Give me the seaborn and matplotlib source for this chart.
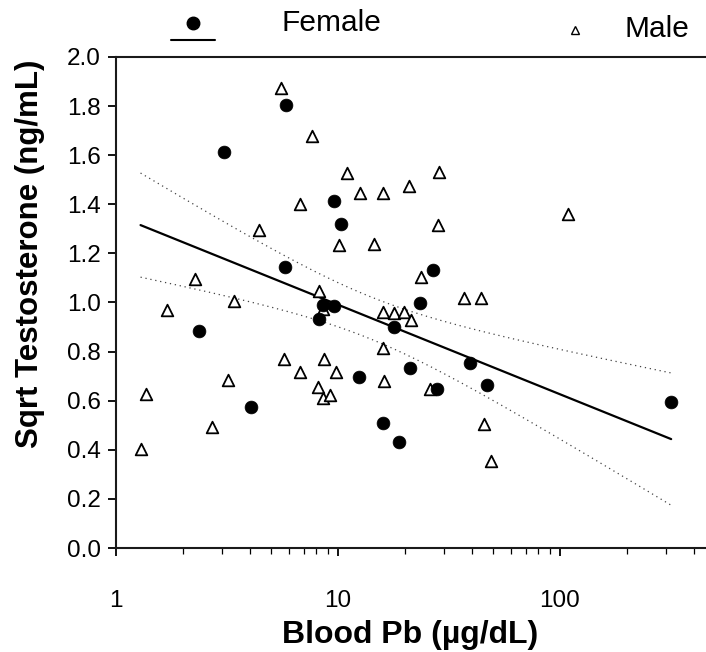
import numpy as np
import pandas as pd
import matplotlib
matplotlib.use("Agg")
import matplotlib.pyplot as plt
from matplotlib.lines import Line2D
from matplotlib.ticker import LogLocator, FixedLocator, NullFormatter
import seaborn as sns

# ---- data ----
female_pb = [5.81, 3.06, 9.6, 10.35, 5.79, 8.6, 9.6, 8.21, 2.37, 17.9, 12.5,
             4.06, 15.9, 18.9, 26.9, 23.5, 21.2, 39.4, 46.7, 27.8, 317]
female_t = [1.805, 1.613, 1.413, 1.321, 1.145, 0.99, 0.986, 0.931, 0.885, 0.901, 0.695,
            0.576, 0.508, 0.432, 1.132, 0.997, 0.732, 0.752, 0.664, 0.649, 0.593]

male_pb = [5.52, 7.64, 11.0, 12.6, 16.0, 6.77, 4.42, 10.07, 14.5, 2.27, 8.21,
           1.69, 3.39, 8.6, 15.9, 17.8, 19.8, 21.3, 16.0, 5.71, 8.67,
           6.77, 9.8, 16.2, 3.18, 1.36, 8.15, 8.52, 9.2, 2.7, 1.29,
           28.6, 20.8, 28.3, 108.7, 23.6, 36.9, 43.9, 26.0, 45.5, 48.7]
male_t = [1.875, 1.68, 1.526, 1.445, 1.446, 1.40, 1.295, 1.235, 1.238, 1.097, 1.048,
          0.969, 1.005, 0.972, 0.96, 0.956, 0.96, 0.927, 0.816, 0.771, 0.771,
          0.718, 0.716, 0.68, 0.683, 0.629, 0.654, 0.611, 0.622, 0.493, 0.404,
          1.53, 1.476, 1.316, 1.359, 1.103, 1.02, 1.02, 0.646, 0.505, 0.354]

y_ticks = [0.0, 0.2, 0.4, 0.6, 0.8, 1.0, 1.2, 1.4, 1.6, 1.8, 2.0]
x_ticks = [1, 10, 100]
x_tick_labels = ["1", "10", "100"]

df = pd.DataFrame({
    "pb": female_pb + male_pb,
    "t": female_t + male_t,
    "sex": ["Female"] * len(female_pb) + ["Male"] * len(male_pb),
})
fem = df[df["sex"] == "Female"]
mal = df[df["sex"] == "Male"]

# ---- regression of female values on log10(Pb), with confidence band ----
lx = np.log10(fem["pb"].values)
yy = fem["t"].values
n = len(lx)
b, a = np.polyfit(lx, yy, 1)
resid = yy - (a + b * lx)
s = np.sqrt(np.sum(resid ** 2) / (n - 2))
band_mult = 1.19  # width of the band as drawn in the reference
lx_all = np.log10(df["pb"].values)
xg = np.linspace(lx_all.min(), lx_all.max(), 200)
yfit = a + b * xg
se = s * np.sqrt(1.0 / n + (xg - lx.mean()) ** 2 / np.sum((lx - lx.mean()) ** 2))
fit = pd.DataFrame({"pb": 10 ** xg, "fit": yfit,
                    "lo": yfit - band_mult * se, "hi": yfit + band_mult * se})

# ---- figure ----
sns.set_style("ticks")
plt.rcParams["font.family"] = ["Liberation Sans", "DejaVu Sans"]
plt.rcParams["text.color"] = "black"
plt.rcParams["axes.labelcolor"] = "black"

fig = plt.figure(figsize=(7.06, 6.52), dpi=100)
ax = fig.add_axes([0.1643, 0.1595, 0.8342, 0.7531])

sns.lineplot(data=fit, x="pb", y="fit", ax=ax, color="black", lw=1.6)
sns.lineplot(data=fit, x="pb", y="lo", ax=ax, color="#444444", lw=0.9, ls=(0, (1, 3)))
sns.lineplot(data=fit, x="pb", y="hi", ax=ax, color="#444444", lw=0.9, ls=(0, (1, 3)))

sns.scatterplot(data=mal, x="pb", y="t", ax=ax, marker="^", s=70,
                facecolor="white", edgecolor="black", linewidth=1.3, zorder=3)
sns.scatterplot(data=fem, x="pb", y="t", ax=ax, marker="o", s=85,
                color="black", edgecolor="black", linewidth=0.5, zorder=4)

ax.set_xscale("log")
ax.set_xlim(1, 450)
ax.set_ylim(0, 2.0)
ax.set_yticks(y_ticks)
ax.set_yticklabels([f"{v:.1f}" for v in y_ticks])
ax.xaxis.set_major_locator(FixedLocator(x_ticks))
ax.set_xticklabels(x_tick_labels)
ax.xaxis.set_minor_locator(LogLocator(base=10, subs=np.arange(2, 10)))
ax.xaxis.set_minor_formatter(NullFormatter())

ax.tick_params(axis="both", which="major", direction="out", length=6, width=1.3,
               labelsize=17.5, color="black", labelcolor="black")
ax.tick_params(axis="y", which="major", pad=5)
ax.tick_params(axis="x", which="major", pad=24)
ax.tick_params(axis="x", which="minor", direction="out", length=4, width=0.9, color="black")

for side in ["left", "bottom", "top"]:
    ax.spines[side].set_visible(True)
    ax.spines[side].set_linewidth(1.5)
    ax.spines[side].set_color("#1a1a1a")
ax.spines["right"].set_visible(False)

ax.set_xlabel("Blood Pb (µg/dL)", fontsize=23, fontweight="bold", labelpad=6, color="black")
ax.set_ylabel("Sqrt Testosterone (ng/mL)", fontsize=22.5, fontweight="bold", labelpad=12,
              color="black")
ax.yaxis.set_label_coords(-0.12, 0.6)

# ---- legend above the axes ----
fig.add_artist(Line2D([0.2734], [0.9647], transform=fig.transFigure, marker="o",
                      markersize=9, color="black", ls="none"))
fig.add_artist(Line2D([0.2734 - 0.0315, 0.2734 + 0.0315], [0.9387, 0.9387],
                      transform=fig.transFigure, color="black", lw=1.5))
fig.text(0.399, 0.9647, "Female", fontsize=21.5, va="center", ha="left", color="black")
fig.add_artist(Line2D([0.8144], [0.954], transform=fig.transFigure, marker="^",
                      markersize=6, markerfacecolor="white", markeredgecolor="black",
                      markeredgewidth=1.0, ls="none"))
fig.text(0.885, 0.9555, "Male", fontsize=21.5, va="center", ha="left", color="black")

fig.savefig("out.png", dpi=100)
